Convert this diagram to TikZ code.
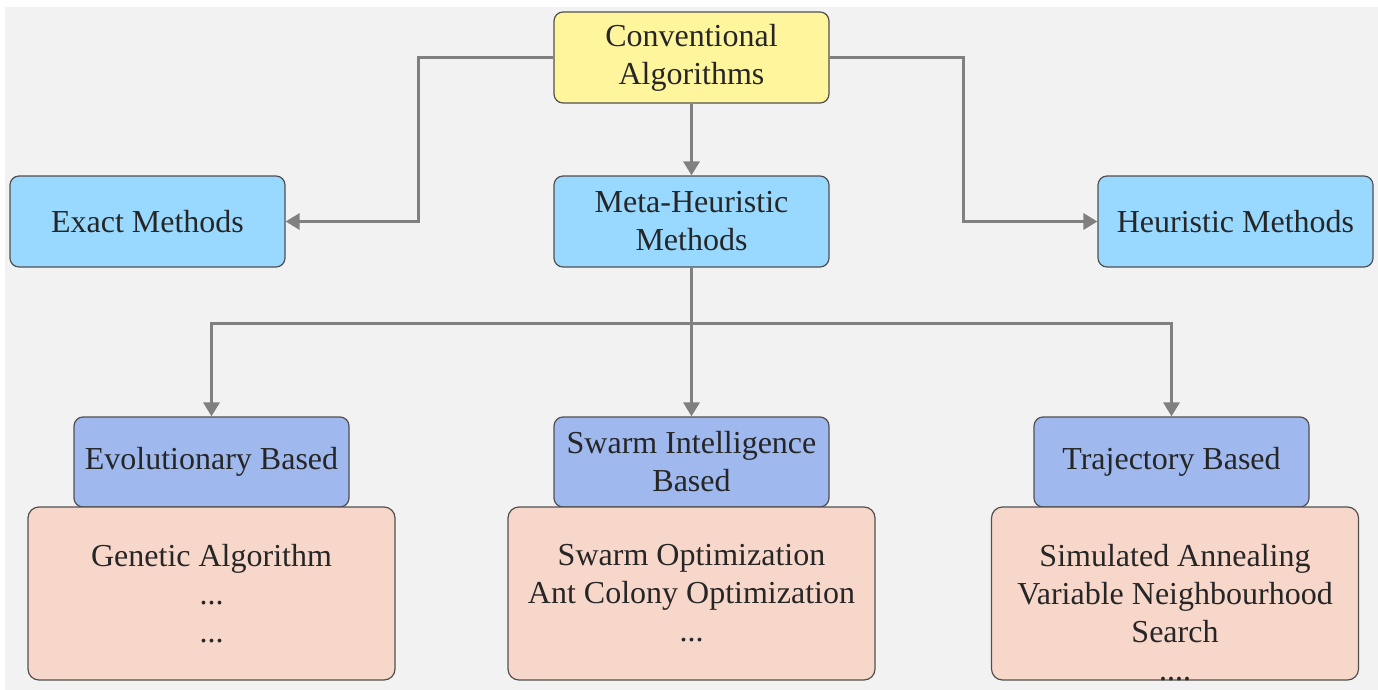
\documentclass[tikz,border=0pt]{standalone}
\usepackage{fontspec}
\setmainfont{Liberation Serif}
\usetikzlibrary{arrows.meta}
\definecolor{bggray}{HTML}{F2F2F2}
\definecolor{rootfill}{HTML}{FFF59D}
\definecolor{methodfill}{HTML}{99D9FF}
\definecolor{familyfill}{HTML}{9FB8EE}
\definecolor{algofill}{HTML}{F8D7CB}
\definecolor{edgegray}{HTML}{808080}
\definecolor{linedark}{HTML}{505050}
\definecolor{textdark}{HTML}{262626}
\tikzstyle{root} = [rectangle, rounded corners=9pt, minimum width=275pt, minimum height=91pt, inner sep=0pt, align=center, draw=linedark, line width=1.2pt, fill=rootfill]
\tikzstyle{method} = [rectangle, rounded corners=9pt, minimum width=275pt, minimum height=91pt, inner sep=0pt, align=center, draw=linedark, line width=1.2pt, fill=methodfill]
\tikzstyle{family} = [rectangle, rounded corners=9pt, minimum width=275pt, minimum height=90pt, inner sep=0pt, align=center, draw=linedark, line width=1.2pt, fill=familyfill]
\tikzstyle{algos} = [rectangle, rounded corners=11pt, minimum width=367pt, minimum height=173pt, inner sep=0pt, draw=linedark, line width=1.2pt, fill=algofill]
\tikzstyle{arrow} = [line width=3pt, draw=edgegray, -{Triangle[length=14pt,width=16pt]}]
\tikzstyle{line} = [line width=3pt, draw=edgegray]
\newcommand{\algolist}[1]{\parbox[c][173pt][t]{360pt}{\centering\vspace*{37pt}#1\par}}

\begin{document}
\begin{tikzpicture}[x=1pt, y=-1pt, every node/.style={font=\fontsize{32}{38}\selectfont, text=textdark}]

\useasboundingbox (0,0) rectangle (1378,690);
\fill[white] (0,0) rectangle (1378,690);
\fill[bggray] (5,7) rectangle (1378,690);

%Root
\node (conv) [root] at (691.5,57.5) {Conventional\\Algorithms};

%Methods
\node (exact) [method] at (147.5,221.5) {Exact Methods};
\node (meta) [method] at (691.5,221.5) {Meta-Heuristic\\Methods};
\node (heur) [method] at (1235.5,221.5) {Heuristic Methods};

%Families
\node (evo) [family] at (211.5,462) {Evolutionary Based};
\node (swarm) [family] at (691.5,462) {Swarm Intelligence\\Based};
\node (traj) [family] at (1171.5,462) {Trajectory Based};

%Algorithms
\node (evo_list) [algos] at (211.5,593.5) {\algolist{Genetic Algorithm\\...\\...}};
\node (swarm_list) [algos] at (691.5,593.5) {\algolist{Swarm Optimization\\Ant Colony Optimization\\...}};
\node (traj_list) [algos] at (1175,593.5) {\algolist{Simulated Annealing\\Variable Neighbourhood\\Search\\....}};

\draw [arrow] (conv.west) -- ++(-135,0) |- (exact.east);
\draw [arrow] (conv.east) -- ++(134,0) |- (heur.west);
\draw [arrow] (conv) -- (meta);
\draw [line] (meta.south) -- ++(0,56) coordinate (split);
\draw [arrow] (split) -| (evo.north);
\draw [arrow] (split) -| (traj.north);
\draw [arrow] (split) -- (swarm.north);

\end{tikzpicture}
\end{document}
